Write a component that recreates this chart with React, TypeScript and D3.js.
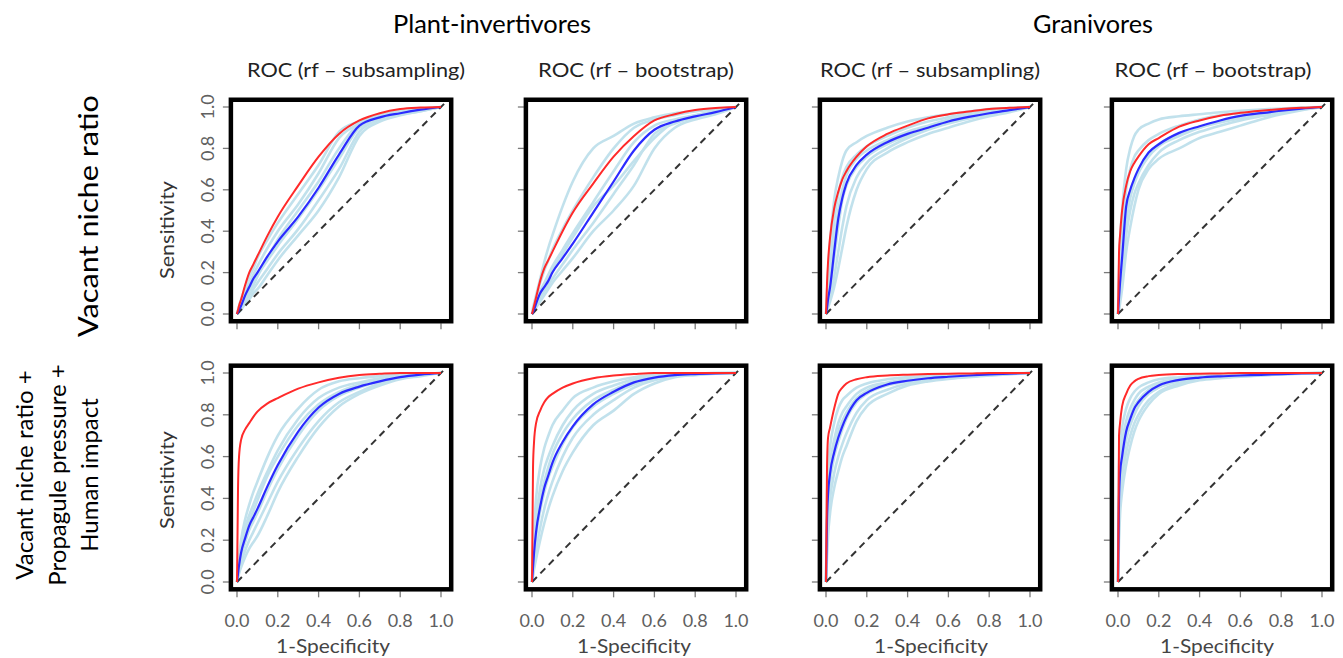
import React from "react";
import * as d3 from "d3";

// ---------- data ----------
const FPR = [0, 0.005, 0.01, 0.02, 0.04, 0.06, 0.08, 0.1, 0.15, 0.2, 0.3, 0.4, 0.5, 0.6, 0.7, 0.8, 0.9, 1.0];
const tickValues = [0, 0.2, 0.4, 0.6, 0.8, 1.0];
const tickLabels = ["0.0", "0.2", "0.4", "0.6", "0.8", "1.0"];
const groupTitles = ["Plant-invertivores", "Granivores"];
const columnTitles = ["ROC (rf \u2013 subsampling)", "ROC (rf \u2013 bootstrap)", "ROC (rf \u2013 subsampling)", "ROC (rf \u2013 bootstrap)"];
const rowLabelTop = ["Vacant niche ratio"];
const rowLabelBottom = ["Vacant niche ratio +", "Propagule pressure +", "Human impact"];
const yAxisTitle = "Sensitivity";
const xAxisTitle = "1-Specificity";

// Panel A: Plant-invertivores, subsampling, vacant niche ratio
const redA = [0, .02, .04, .07, .14, .2, .24, .28, .38, .47, .62, .76, .87, .935, .97, .99, .997, 1];
const blueA = [0, .01, .02, .04, .09, .13, .17, .2, .28, .35, .47, .61, .77, .91, .95, .97, .987, 1];
const lightA = [
  [0, .02, .04, .07, .13, .18, .22, .27, .36, .44, .58, .72, .88, .93, .96, .98, .99, 1],
  [0, .015, .03, .05, .1, .15, .19, .23, .32, .4, .53, .68, .85, .92, .955, .975, .99, 1],
  [0, .01, .02, .04, .08, .12, .16, .19, .26, .33, .46, .6, .75, .9, .94, .97, .985, 1],
  [0, .005, .01, .03, .06, .09, .12, .15, .22, .29, .41, .55, .7, .88, .94, .965, .985, 1],
  [0, .005, .01, .02, .05, .07, .1, .12, .19, .26, .38, .5, .66, .86, .93, .96, .98, 1],
  [0, .01, .02, .04, .07, .11, .14, .18, .27, .36, .5, .64, .8, .92, .95, .965, .98, 1],
];
// Panel B: Plant-invertivores, bootstrap, vacant niche ratio
const redB = [0, .02, .04, .08, .16, .22, .26, .3, .4, .49, .63, .76, .86, .935, .965, .985, .995, 1];
const blueB = [0, .01, .02, .05, .1, .13, .16, .2, .27, .34, .49, .64, .79, .89, .93, .955, .975, 1];
const lightB = [
  [0, .03, .05, .09, .17, .25, .32, .38, .52, .64, .8, .86, .92, .95, .97, .98, .99, 1],
  [0, .02, .04, .08, .15, .21, .26, .31, .41, .5, .66, .8, .9, .94, .96, .98, .99, 1],
  [0, .01, .03, .06, .11, .15, .19, .23, .31, .39, .54, .69, .83, .91, .94, .96, .98, 1],
  [0, .01, .02, .04, .08, .11, .14, .17, .24, .31, .44, .58, .72, .87, .92, .95, .97, 1],
  [0, .005, .01, .03, .06, .09, .12, .15, .21, .27, .4, .5, .62, .8, .9, .94, .965, 1],
  [0, .01, .02, .05, .09, .13, .17, .21, .29, .37, .52, .62, .74, .85, .93, .96, .98, 1],
];
// Panel C: Granivores, subsampling, vacant niche ratio
const redC = [0, .15, .25, .37, .51, .59, .65, .69, .76, .81, .87, .91, .945, .965, .978, .99, .996, 1];
const blueC = [0, .03, .07, .13, .3, .46, .56, .63, .72, .77, .83, .87, .9, .93, .952, .97, .985, 1];
const lightC = [
  [0, .1, .2, .35, .55, .66, .74, .79, .83, .86, .9, .93, .95, .965, .978, .99, .995, 1],
  [0, .06, .12, .22, .45, .58, .66, .71, .77, .81, .86, .9, .93, .95, .97, .98, .99, 1],
  [0, .03, .06, .12, .27, .42, .55, .62, .71, .76, .82, .86, .9, .93, .95, .97, .985, 1],
  [0, .02, .04, .08, .18, .3, .42, .52, .66, .73, .8, .85, .89, .92, .945, .965, .98, 1],
  [0, .01, .03, .06, .13, .22, .32, .42, .6, .7, .78, .83, .87, .9, .93, .955, .975, 1],
  [0, .04, .08, .15, .34, .5, .6, .67, .75, .79, .84, .88, .91, .94, .96, .975, .99, 1],
];
// Panel D: Granivores, bootstrap, vacant niche ratio
const redD = [0, .3, .38, .5, .62, .69, .73, .76, .82, .85, .905, .935, .958, .972, .982, .99, .996, 1];
const blueD = [0, .08, .15, .27, .52, .6, .655, .7, .78, .82, .875, .907, .935, .957, .97, .982, .992, 1];
const lightD = [
  [0, .2, .35, .5, .7, .8, .86, .89, .92, .94, .955, .965, .975, .982, .988, .993, .997, 1],
  [0, .12, .25, .4, .6, .7, .76, .79, .84, .87, .91, .94, .96, .97, .98, .99, .995, 1],
  [0, .06, .12, .25, .48, .58, .64, .69, .77, .82, .87, .9, .93, .95, .968, .98, .99, 1],
  [0, .03, .08, .18, .38, .5, .58, .63, .72, .78, .84, .88, .91, .935, .955, .972, .987, 1],
  [0, .02, .05, .12, .3, .42, .52, .6, .7, .75, .8, .85, .88, .91, .94, .965, .985, 1],
  [0, .05, .1, .22, .44, .56, .63, .68, .76, .81, .86, .9, .925, .945, .965, .978, .99, 1],
];
// Panel E: Plant-invertivores, subsampling, full model
const redE = [0, .45, .6, .68, .73, .76, .79, .815, .855, .88, .925, .955, .977, .99, .996, 1, 1, 1];
const blueE = [0, .04, .08, .14, .21, .27, .31, .35, .46, .56, .72, .835, .9, .935, .96, .98, .992, 1];
const lightE = [
  [0, .06, .12, .2, .3, .37, .43, .48, .6, .7, .83, .92, .96, .975, .985, .992, .997, 1],
  [0, .05, .1, .17, .26, .32, .37, .42, .53, .63, .78, .88, .93, .955, .975, .988, .995, 1],
  [0, .04, .07, .12, .19, .25, .29, .33, .44, .54, .7, .82, .89, .93, .96, .98, .99, 1],
  [0, .03, .05, .09, .15, .2, .24, .28, .38, .48, .64, .77, .86, .91, .95, .975, .99, 1],
  [0, .02, .04, .07, .12, .16, .19, .22, .32, .43, .6, .74, .84, .9, .94, .97, .985, 1],
  [0, .04, .08, .14, .22, .29, .34, .39, .51, .6, .75, .85, .91, .945, .97, .985, .993, 1],
];
// Panel F: Plant-invertivores, bootstrap, full model
const redF = [0, .55, .67, .76, .82, .86, .885, .9, .93, .95, .975, .988, .995, 1, 1, 1, 1, 1];
const blueF = [0, .07, .14, .24, .36, .45, .51, .57, .67, .745, .85, .91, .955, .978, .99, .995, .998, 1];
const lightF = [
  [0, .15, .25, .4, .55, .64, .7, .75, .82, .88, .93, .96, .98, .99, .995, .998, 1, 1],
  [0, .1, .18, .3, .45, .54, .6, .65, .75, .82, .9, .94, .97, .985, .993, .997, 1, 1],
  [0, .06, .12, .22, .34, .43, .5, .55, .66, .74, .84, .9, .945, .975, .99, .995, .998, 1],
  [0, .04, .08, .15, .26, .35, .42, .48, .6, .69, .8, .87, .93, .965, .985, .993, .998, 1],
  [0, .03, .06, .11, .2, .28, .35, .41, .53, .62, .75, .82, .9, .95, .98, .99, .997, 1],
  [0, .08, .15, .26, .39, .48, .55, .61, .71, .78, .87, .92, .96, .98, .99, .996, .999, 1],
];
// Panel G: Granivores, subsampling, full model
const redG = [0, .55, .69, .74, .83, .9, .93, .95, .97, .98, .988, .992, .995, .997, .998, 1, 1, 1];
const blueG = [0, .3, .42, .52, .62, .69, .745, .79, .87, .905, .945, .963, .975, .982, .988, .993, .997, 1];
const lightG = [
  [0, .4, .55, .65, .76, .83, .87, .89, .93, .95, .97, .98, .986, .99, .993, .996, .998, 1],
  [0, .32, .46, .57, .68, .76, .81, .84, .9, .93, .955, .97, .98, .986, .99, .994, .997, 1],
  [0, .25, .38, .48, .6, .67, .73, .78, .86, .9, .94, .96, .972, .98, .986, .992, .996, 1],
  [0, .18, .3, .4, .52, .6, .66, .71, .81, .87, .92, .95, .965, .975, .983, .99, .995, 1],
  [0, .12, .22, .33, .45, .53, .6, .65, .77, .84, .9, .94, .96, .972, .98, .988, .994, 1],
  [0, .28, .4, .5, .64, .72, .77, .81, .88, .915, .95, .965, .975, .983, .988, .993, .997, 1],
];
// Panel H: Granivores, bootstrap, full model
const redH = [0, .7, .76, .84, .9, .94, .96, .972, .985, .99, .995, .997, .998, 1, 1, 1, 1, 1];
const blueH = [0, .4, .52, .6, .72, .78, .83, .86, .91, .94, .967, .978, .984, .988, .991, .995, .998, 1];
const lightH = [
  [0, .55, .66, .74, .83, .88, .91, .93, .955, .97, .98, .987, .99, .993, .995, .997, .999, 1],
  [0, .45, .58, .67, .77, .83, .87, .9, .935, .955, .972, .982, .987, .99, .993, .996, .998, 1],
  [0, .35, .47, .56, .68, .75, .8, .84, .9, .93, .96, .975, .982, .987, .991, .995, .998, 1],
  [0, .28, .4, .5, .62, .7, .76, .8, .87, .91, .95, .97, .978, .984, .989, .994, .997, 1],
  [0, .2, .32, .43, .56, .65, .72, .77, .85, .9, .94, .965, .975, .982, .988, .993, .997, 1],
  [0, .38, .5, .6, .72, .79, .84, .87, .92, .945, .968, .98, .985, .989, .992, .995, .998, 1],
];

const panels = [
  { row: 0, col: 0, red: redA, blue: blueA, light: lightA },
  { row: 0, col: 1, red: redB, blue: blueB, light: lightB },
  { row: 0, col: 2, red: redC, blue: blueC, light: lightC },
  { row: 0, col: 3, red: redD, blue: blueD, light: lightD },
  { row: 1, col: 0, red: redE, blue: blueE, light: lightE },
  { row: 1, col: 1, red: redF, blue: blueF, light: lightF },
  { row: 1, col: 2, red: redG, blue: blueG, light: lightG },
  { row: 1, col: 3, red: redH, blue: blueH, light: lightH },
];

// ---------- layout ----------
const W = 1343, H = 658;
const FONT = "Lato, 'Open Sans', sans-serif";
const colX0 = [237, 532, 826, 1118];
const xUnit = 204;
const rowY0 = [314, 582];
const rowUnit = [207, 209];
const xDom = [-0.03, 1.05];
const yDom = [-0.035, 1.035];
const titleCenters = [356, 636, 930, 1213];
const titleLengths = [218, 196, 220, 197];
const xTitleCenters = [333, 634, 931, 1217];
const TICK_GRAY = "#7a7a7a";
const LABEL_GRAY = "#606060";

function Panel({ p }: { p: typeof panels[number] }) {
  const x0 = colX0[p.col];
  const y0 = rowY0[p.row];
  const u = rowUnit[p.row];
  const xs = d3.scaleLinear().domain(xDom).range([x0 + xDom[0] * xUnit, x0 + xDom[1] * xUnit]);
  const ys = d3.scaleLinear().domain(yDom).range([y0 - yDom[0] * u, y0 - yDom[1] * u]);
  const line = d3
    .line<number>()
    .x((_, i) => xs(FPR[i]))
    .y((d) => ys(d))
    .curve(d3.curveMonotoneX);
  const bx0 = xs(xDom[0]), bx1 = xs(xDom[1]);
  const by0 = ys(yDom[1]), by1 = ys(yDom[0]);
  return (
    <g>
      {tickValues.map((v, i) => (
        <line key={"yt" + i} x1={bx0 - 8} x2={bx0 - 2} y1={ys(v)} y2={ys(v)} stroke={TICK_GRAY} strokeWidth={1.3} />
      ))}
      {tickValues.map((v, i) => (
        <line key={"xt" + i} x1={xs(v)} x2={xs(v)} y1={by1 + 2} y2={by1 + 8} stroke={TICK_GRAY} strokeWidth={1.3} />
      ))}
      {p.col === 0 &&
        tickValues.map((v, i) => (
          <text key={"yl" + i} transform={`translate(${bx0 - 17},${ys(v)}) rotate(-90)`} textAnchor="middle"
            fontFamily={FONT} fontSize={18} fill={LABEL_GRAY}>{tickLabels[i]}</text>
        ))}
      {p.row === 1 &&
        tickValues.map((v, i) => (
          <text key={"xl" + i} x={xs(v)} y={627} textAnchor="middle" fontFamily={FONT} fontSize={18} fill={LABEL_GRAY}>
            {tickLabels[i]}
          </text>
        ))}
      {/* light blue resamples */}
      <g opacity={0.75}>
        {p.light.map((c, i) => (
          <path key={"lb" + i} d={line(c) || ""} fill="none" stroke="#add8e6" strokeWidth={2.6} />
        ))}
      </g>
      <line x1={xs(0)} y1={ys(0)} x2={xs(1.02)} y2={ys(1.02)} stroke="#333" strokeWidth={2} strokeDasharray="7,5" />
      <path d={line(p.blue) || ""} fill="none" stroke="#2b2bff" strokeWidth={2.2} />
      <path d={line(p.red) || ""} fill="none" stroke="#ff2a2a" strokeWidth={2} />
      <rect x={bx0} y={by0} width={bx1 - bx0} height={by1 - by0} fill="none" stroke="#000" strokeWidth={4.5} />
    </g>
  );
}

export default function App() {
  return (
    <svg width={W} height={H} style={{ position: "absolute", left: 0, top: 0, background: "#fff" }}>
      <rect x={0} y={0} width={W} height={H} fill="#fff" />
      <text x={492} y={33} textAnchor="middle" fontFamily={FONT} fontSize={25} textLength={198} lengthAdjust="spacingAndGlyphs">{groupTitles[0]}</text>
      <text x={1093} y={33} textAnchor="middle" fontFamily={FONT} fontSize={25} textLength={120} lengthAdjust="spacingAndGlyphs">{groupTitles[1]}</text>
      {columnTitles.map((t, i) => (
        <text key={"ct" + i} x={titleCenters[i]} y={77} textAnchor="middle" fontFamily={FONT} fontSize={20}
          textLength={titleLengths[i]} lengthAdjust="spacingAndGlyphs" fill="#222">{t}</text>
      ))}
      <text transform="translate(98,216) rotate(-90)" textAnchor="middle" fontFamily={FONT} fontSize={27}
        textLength={242} lengthAdjust="spacingAndGlyphs">{rowLabelTop[0]}</text>
      {rowLabelBottom.map((t, i) => (
        <text key={"rb" + i} transform={`translate(${33 + i * 32.5},475) rotate(-90)`} textAnchor="middle"
          fontFamily={FONT} fontSize={24}>{t}</text>
      ))}
      <text transform="translate(174,230) rotate(-90)" textAnchor="middle" fontFamily={FONT} fontSize={19}
        textLength={98} lengthAdjust="spacingAndGlyphs" fill="#333">{yAxisTitle}</text>
      <text transform="translate(174,480) rotate(-90)" textAnchor="middle" fontFamily={FONT} fontSize={19}
        textLength={98} lengthAdjust="spacingAndGlyphs" fill="#333">{yAxisTitle}</text>
      {xTitleCenters.map((cx, i) => (
        <text key={"xt" + i} x={cx} y={653} textAnchor="middle" fontFamily={FONT} fontSize={19}
          textLength={114} lengthAdjust="spacingAndGlyphs" fill="#444">{xAxisTitle}</text>
      ))}
      {panels.map((p, i) => (
        <Panel key={i} p={p} />
      ))}
    </svg>
  );
}
